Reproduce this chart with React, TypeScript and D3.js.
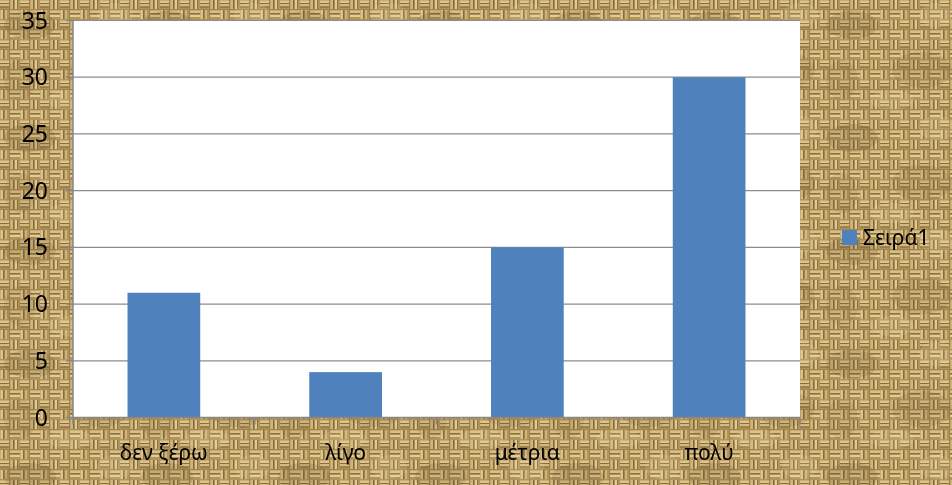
import React from "react";
import * as d3 from "d3";

const categories = ["δεν ξέρω", "λίγο", "μέτρια", "πολύ"];
const values = [11, 4, 15, 30];
const yTicks = [0, 5, 10, 15, 20, 25, 30, 35];
const seriesName = "Σειρά1";

const W = 952;
const H = 485;
const plot = { left: 73, right: 800, top: 20.5, bottom: 417.5 };
const FONT = "'Noto Sans', 'Open Sans', sans-serif";

export default function App() {
  const x = d3
    .scaleBand<string>()
    .domain(categories)
    .range([plot.left, plot.right])
    .paddingInner(0.6)
    .paddingOuter(0.3);
  const xCat = d3.scaleBand<string>().domain(categories).range([plot.left, plot.right]).padding(0);
  const y = d3.scaleLinear().domain([0, 35]).range([plot.bottom, plot.top]);
  const boundaries = d3.range(categories.length + 1).map((i) => plot.left + i * xCat.step());

  return (
    <svg
      width={W}
      height={H}
      style={{ position: "fixed", left: 0, top: 0, display: "block" }}
      fontFamily={FONT}
    >
      <defs>
        <pattern id="burlap" width="20" height="20" patternUnits="userSpaceOnUse">
          <rect width="20" height="20" fill="#b1945a" />
          {/* horizontal weave block */}
          <rect x="0" y="0.5" width="9" height="2.5" fill="#dcc48c" />
          <rect x="0" y="4" width="9" height="2.5" fill="#d4ba80" />
          <rect x="0" y="3" width="9" height="1" fill="#8a6d3d" />
          <rect x="0" y="6.5" width="9" height="1" fill="#7f6436" />
          {/* vertical weave block */}
          <rect x="10.5" y="0" width="2.5" height="9" fill="#d1b67c" />
          <rect x="14.5" y="0" width="2.5" height="9" fill="#e0ca93" />
          <rect x="13" y="0" width="1.5" height="9" fill="#86693a" />
          <rect x="17" y="0" width="1" height="9" fill="#8f7342" />
          {/* lower row, swapped */}
          <rect x="0.5" y="10" width="2.5" height="9" fill="#dcc48c" />
          <rect x="4.5" y="10" width="2.5" height="9" fill="#cfb47a" />
          <rect x="3" y="10" width="1.5" height="9" fill="#85693a" />
          <rect x="10" y="10.5" width="10" height="2.5" fill="#d8bf86" />
          <rect x="10" y="14.5" width="10" height="2.5" fill="#e2cc96" />
          <rect x="10" y="13" width="10" height="1.5" fill="#8b6f3e" />
          <rect x="9" y="0" width="1" height="20" fill="#9a7d49" opacity="0.8" />
          <rect x="0" y="9" width="20" height="1" fill="#9e814c" opacity="0.8" />
        </pattern>
        <pattern id="mottle" width="137" height="113" patternUnits="userSpaceOnUse">
          <ellipse cx="30" cy="25" rx="26" ry="14" fill="#5a4322" opacity="0.16" />
          <ellipse cx="100" cy="70" rx="30" ry="18" fill="#5a4322" opacity="0.13" />
          <ellipse cx="70" cy="100" rx="22" ry="10" fill="#f3e2b0" opacity="0.15" />
          <ellipse cx="115" cy="15" rx="18" ry="12" fill="#f3e2b0" opacity="0.14" />
          <ellipse cx="20" cy="80" rx="16" ry="20" fill="#6a5028" opacity="0.12" />
        </pattern>
      </defs>
      <rect width={W} height={H} fill="url(#burlap)" />
      <rect width={W} height={H} fill="url(#mottle)" />

      {/* plot area */}
      <rect
        x={plot.left}
        y={plot.top}
        width={plot.right - plot.left}
        height={plot.bottom - plot.top}
        fill="#ffffff"
      />

      {/* gridlines */}
      {yTicks
        .filter((t) => t > 0)
        .map((t) => (
          <line
            key={"g" + t}
            x1={plot.left}
            x2={plot.right}
            y1={y(t)}
            y2={y(t)}
            stroke="#8c8c8c"
            strokeWidth={1.2}
          />
        ))}

      {/* bars */}
      {categories.map((c, i) => (
        <rect
          key={c}
          x={x(c)}
          y={y(values[i])}
          width={x.bandwidth()}
          height={y(0) - y(values[i])}
          fill="#4f81bd"
        />
      ))}

      {/* axes */}
      <line x1={plot.left} x2={plot.left} y1={plot.top} y2={plot.bottom} stroke="#868686" strokeWidth={1.5} />
      <line x1={plot.left} x2={plot.right} y1={plot.bottom} y2={plot.bottom} stroke="#868686" strokeWidth={1.5} />
      {yTicks.map((t) => (
        <line key={"yt" + t} x1={plot.left - 7} x2={plot.left} y1={y(t)} y2={y(t)} stroke="#868686" strokeWidth={1.5} />
      ))}
      {boundaries.map((bx, i) => (
        <line key={"xt" + i} x1={bx} x2={bx} y1={plot.bottom} y2={plot.bottom + 7} stroke="#868686" strokeWidth={1.5} />
      ))}

      {/* y labels */}
      {yTicks.map((t) => (
        <text key={"yl" + t} x={48} y={y(t) + 8} textAnchor="end" fontSize={23} fill="#000">
          {t}
        </text>
      ))}

      {/* x labels */}
      {categories.map((c) => (
        <text
          key={"xl" + c}
          x={(xCat(c) as number) + xCat.bandwidth() / 2}
          y={460}
          textAnchor="middle"
          fontSize={21}
          fill="#000"
        >
          {c}
        </text>
      ))}

      {/* legend */}
      <rect x={842} y={230} width={15} height={15} fill="#4f81bd" />
      <text x={863} y={245} fontSize={21} fill="#000">
        {seriesName}
      </text>
    </svg>
  );
}
